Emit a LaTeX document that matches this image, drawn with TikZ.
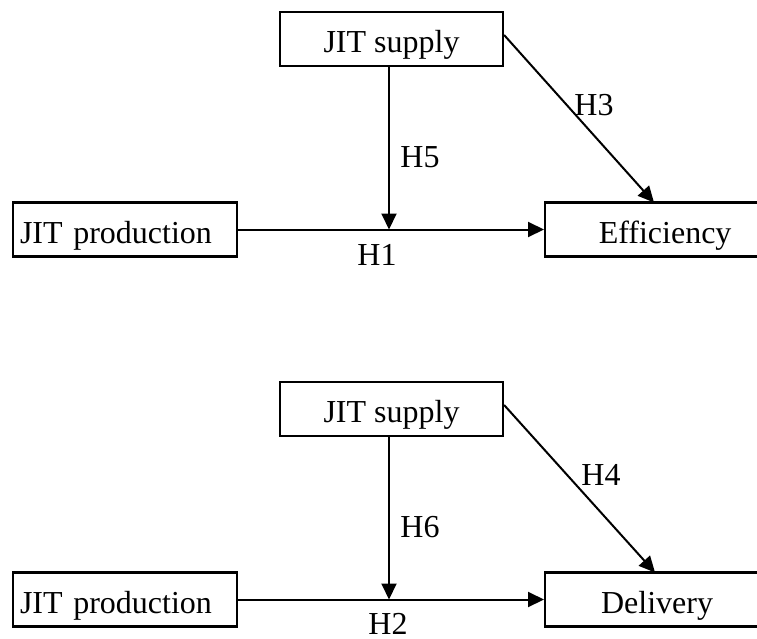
\documentclass[tikz,border=0pt]{standalone}
\usepackage{fontspec}
\setmainfont{Liberation Serif}
\usetikzlibrary{arrows.meta}

\tikzset{
  box/.style={draw, line width=2.2pt, rectangle, inner sep=0pt,
    minimum height=54pt, text height=27pt, text depth=0pt,
    font=\fontsize{32}{38}\selectfont},
  leftbox/.style={box, inner xsep=7pt, text width=210pt, align=left},
  link/.style={line width=2pt, -{Triangle[length=16pt,width=15pt]}},
  hlabel/.style={inner sep=0pt, font=\fontsize{32}{38}\selectfont}
}

\begin{document}
\begin{tikzpicture}[x=1pt,y=-1pt]
\useasboundingbox (0,0) rectangle (757,639);

% ---- upper model: efficiency ----
\node[box, minimum width=223pt] (supA) at (391.5,39) {JIT supply};
\node[leftbox] (prodA) at (125,229.5) {JIT production};
\node[box, minimum width=240pt, anchor=west] (eff) at (544,229.5) {Efficiency};
\coordinate (jA) at (389,229.5);
\coordinate (tA) at (654,202.5);

\draw[link] (prodA.east) -- (eff.west);
\draw[link] (supA.south -| jA) -- (jA);
\draw[link] ([yshift=4pt]supA.east) -- (tA);

\node[hlabel] (h5) at (420,157) {H5};
\node[hlabel] (h3) at (594,105) {H3};
\node[hlabel] (h1) at (377,255) {H1};

% ---- lower model: delivery ----
\node[box, minimum width=223pt] (supB) at (391.5,409) {JIT supply};
\node[leftbox] (prodB) at (125,599.5) {JIT production};
\node[box, minimum width=224pt, anchor=west] (del) at (544,599.5) {Delivery};
\coordinate (jB) at (389,599.5);
\coordinate (tB) at (655,572.5);

\draw[link] (prodB.east) -- (del.west);
\draw[link] (supB.south -| jB) -- (jB);
\draw[link] ([yshift=4pt]supB.east) -- (tB);

\node[hlabel] (h6) at (420,527) {H6};
\node[hlabel] (h4) at (601,475) {H4};
\node[hlabel] (h2) at (388,624) {H2};
\end{tikzpicture}
\end{document}
